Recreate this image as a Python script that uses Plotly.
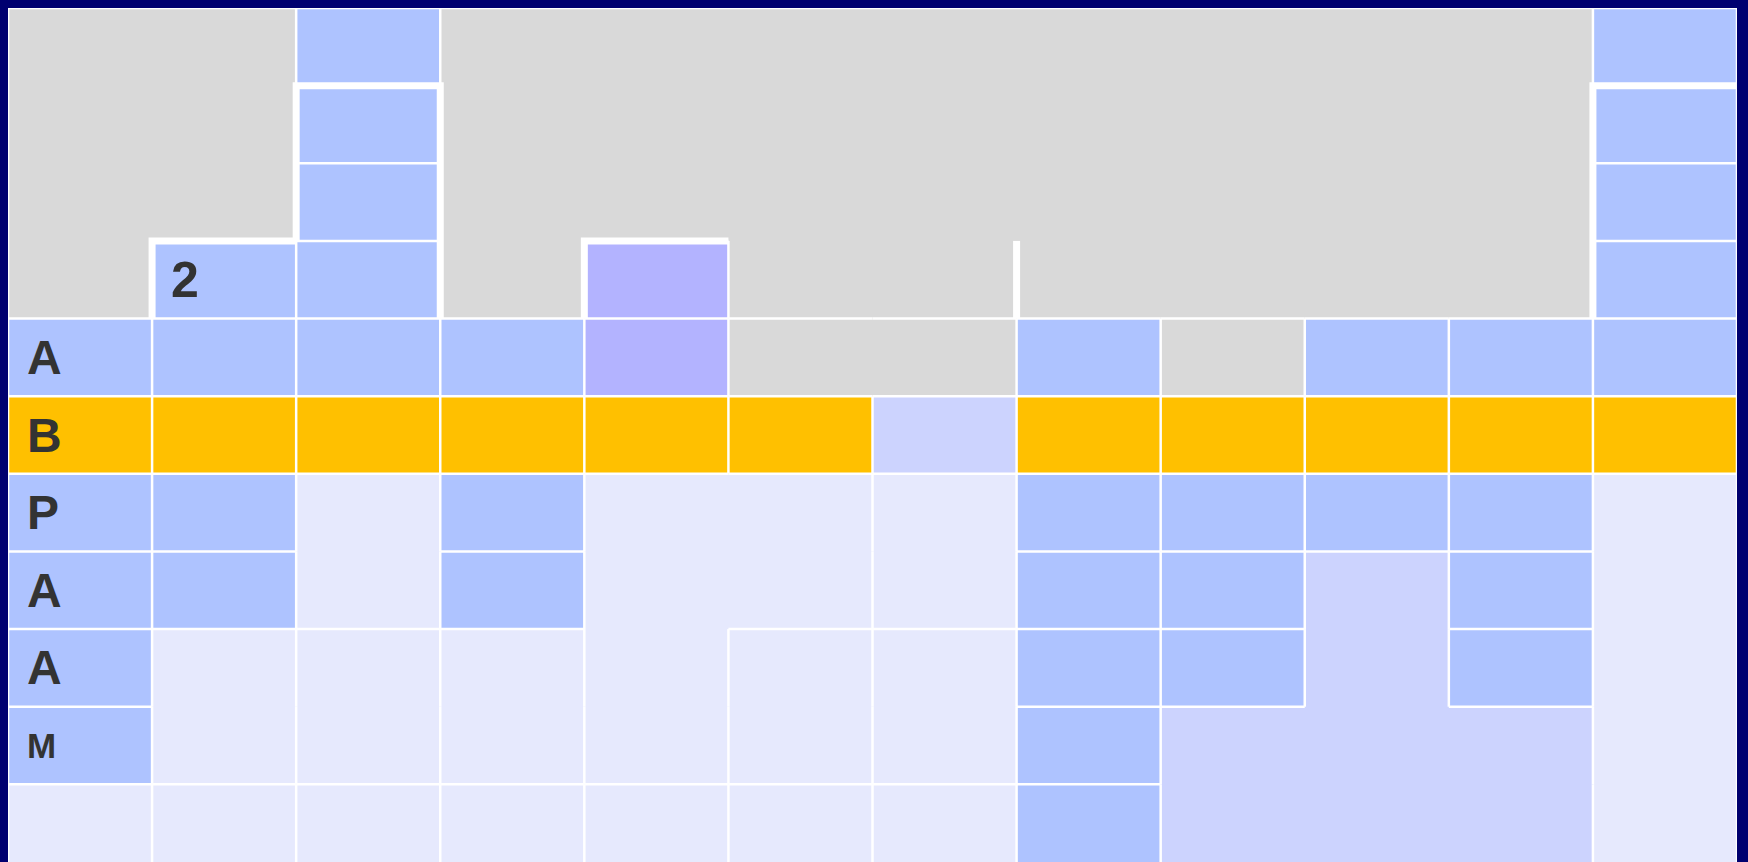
import plotly.graph_objects as go

# ---- data -------------------------------------------------------------
# cell colour categories, one string per row (top to bottom), 12 columns
# G gray, B blue, P purple, O orange, L lavender, W light
CELL_ROWS = [
    "GGBGGGGGGGGB",
    "GGBGGGGGGGGB",
    "GGBGGGGGGGGB",
    "GBBGPGGGGGGB",
    "BBBBPGGBGBBB",
    "OOOOOOLOOOOO",
    "BBWBWWWBBBBW",
    "BBWBWWWBBLBW",
    "BWWWWWWBBLBW",
    "BWWWWWWBLLLW",
    "WWWWWWWBLLLW",
]
# merged-cell groups ('.' = a cell on its own)
GROUP_ROWS = [
    "g g . g g g g g g g g .",
    "g g . g g g g g g g g .",
    "g g . g g g g g g g g .",
    "g . . g . g g g g g g .",
    ". . . . . h h . . . . .",
    ". . . . . . . . . . . .",
    ". . m . n n c . . . . w",
    ". . m . n n c . . v . w",
    ". p q r n s d . . v . w",
    ". p q r n s d . v v v w",
    ". . . . . . . . v v v w",
]
CATEGORIES = ["G", "B", "P", "O", "L", "W"]
CAT_COLORS = ["#d9d9d9", "#aec3ff", "#b3b3ff", "#ffc000", "#ccd3fe", "#e6e9fd"]

# text labels
LABEL_ROWS = [3, 4, 5, 6, 7, 8, 9]
LABEL_COLS = [1, 0, 0, 0, 0, 0, 0]
LABEL_TEXT = ["2", "A", "B", "P", "A", "A", "M"]
LABEL_SIZE = [50, 48, 48, 48, 48, 48, 35]

# thick outline paths in grid units (col, row)
THICK_PATHS = [
    [(1, 4), (1, 3), (2, 3)],
    [(2, 3), (2, 1), (3, 1), (3, 4)],
    [(4, 4), (4, 3), (5, 3)],
    [(7, 4), (7, 3)],
    [(11, 4), (11, 1), (12, 1)],
]

NROWS = len(CELL_ROWS)
NCOLS = len(CELL_ROWS[0])

# ---- build ------------------------------------------------------------
z = [[CATEGORIES.index(ch) for ch in row] for row in CELL_ROWS]
n = len(CATEGORIES)
colorscale = []
for i, c in enumerate(CAT_COLORS):
    colorscale.append([i / n, c])
    colorscale.append([(i + 1) / n, c])

groups = []
uid = 0
for row in GROUP_ROWS:
    g = []
    for t in row.split():
        if t == ".":
            uid += 1
            g.append("u%d" % uid)
        else:
            g.append(t)
    groups.append(g)

fig = go.Figure()
fig.add_trace(go.Heatmap(
    z=z,
    x=[c + 0.5 for c in range(NCOLS)],
    y=[r + 0.5 for r in range(NROWS)],
    zmin=-0.5, zmax=n - 0.5,
    colorscale=colorscale,
    showscale=False,
    hoverinfo="skip",
))

# thin separators between differing groups
lx, ly = [], []
for r in range(1, NROWS):
    for c in range(NCOLS):
        if groups[r - 1][c] != groups[r][c]:
            lx += [c, c + 1, None]
            ly += [r, r, None]
for c in range(1, NCOLS):
    for r in range(NROWS):
        if groups[r][c - 1] != groups[r][c]:
            lx += [c, c, None]
            ly += [r, r + 1, None]
# outer frame (top, left, right)
lx += [0, NCOLS, None, 0, 0, None, NCOLS, NCOLS, None]
ly += [0, 0, None, 0, NROWS, None, 0, NROWS, None]

fig.add_trace(go.Scatter(
    x=lx, y=ly, mode="lines",
    line=dict(color="white", width=2.5),
    hoverinfo="skip", showlegend=False,
))

tx, ty = [], []
for path in THICK_PATHS:
    for (c, r) in path:
        tx.append(c)
        ty.append(r)
    tx.append(None)
    ty.append(None)
fig.add_trace(go.Scatter(
    x=tx, y=ty, mode="lines",
    line=dict(color="white", width=7),
    hoverinfo="skip", showlegend=False,
))

for r, c, t, s in zip(LABEL_ROWS, LABEL_COLS, LABEL_TEXT, LABEL_SIZE):
    fig.add_annotation(
        x=c + 0.115, y=r + 0.5, text="<b>%s</b>" % t,
        showarrow=False, xanchor="left", yanchor="middle",
        font=dict(family="Liberation Sans, Arial, sans-serif", size=s, color="#333333"),
    )

fig.update_layout(
    width=1748, height=862,
    margin=dict(l=8, r=11, t=8, b=0),
    paper_bgcolor="#000070",
    plot_bgcolor="white",
    showlegend=False,
    xaxis=dict(range=[0, NCOLS], visible=False, showgrid=False, zeroline=False, fixedrange=True),
    yaxis=dict(range=[NROWS, 0], visible=False, showgrid=False, zeroline=False, fixedrange=True),
)

fig.write_html(
    "out.html",
    config={"displayModeBar": False},
    post_script="document.body.style.margin='0';document.body.style.background='#000070';document.body.style.overflow='hidden';",
)
